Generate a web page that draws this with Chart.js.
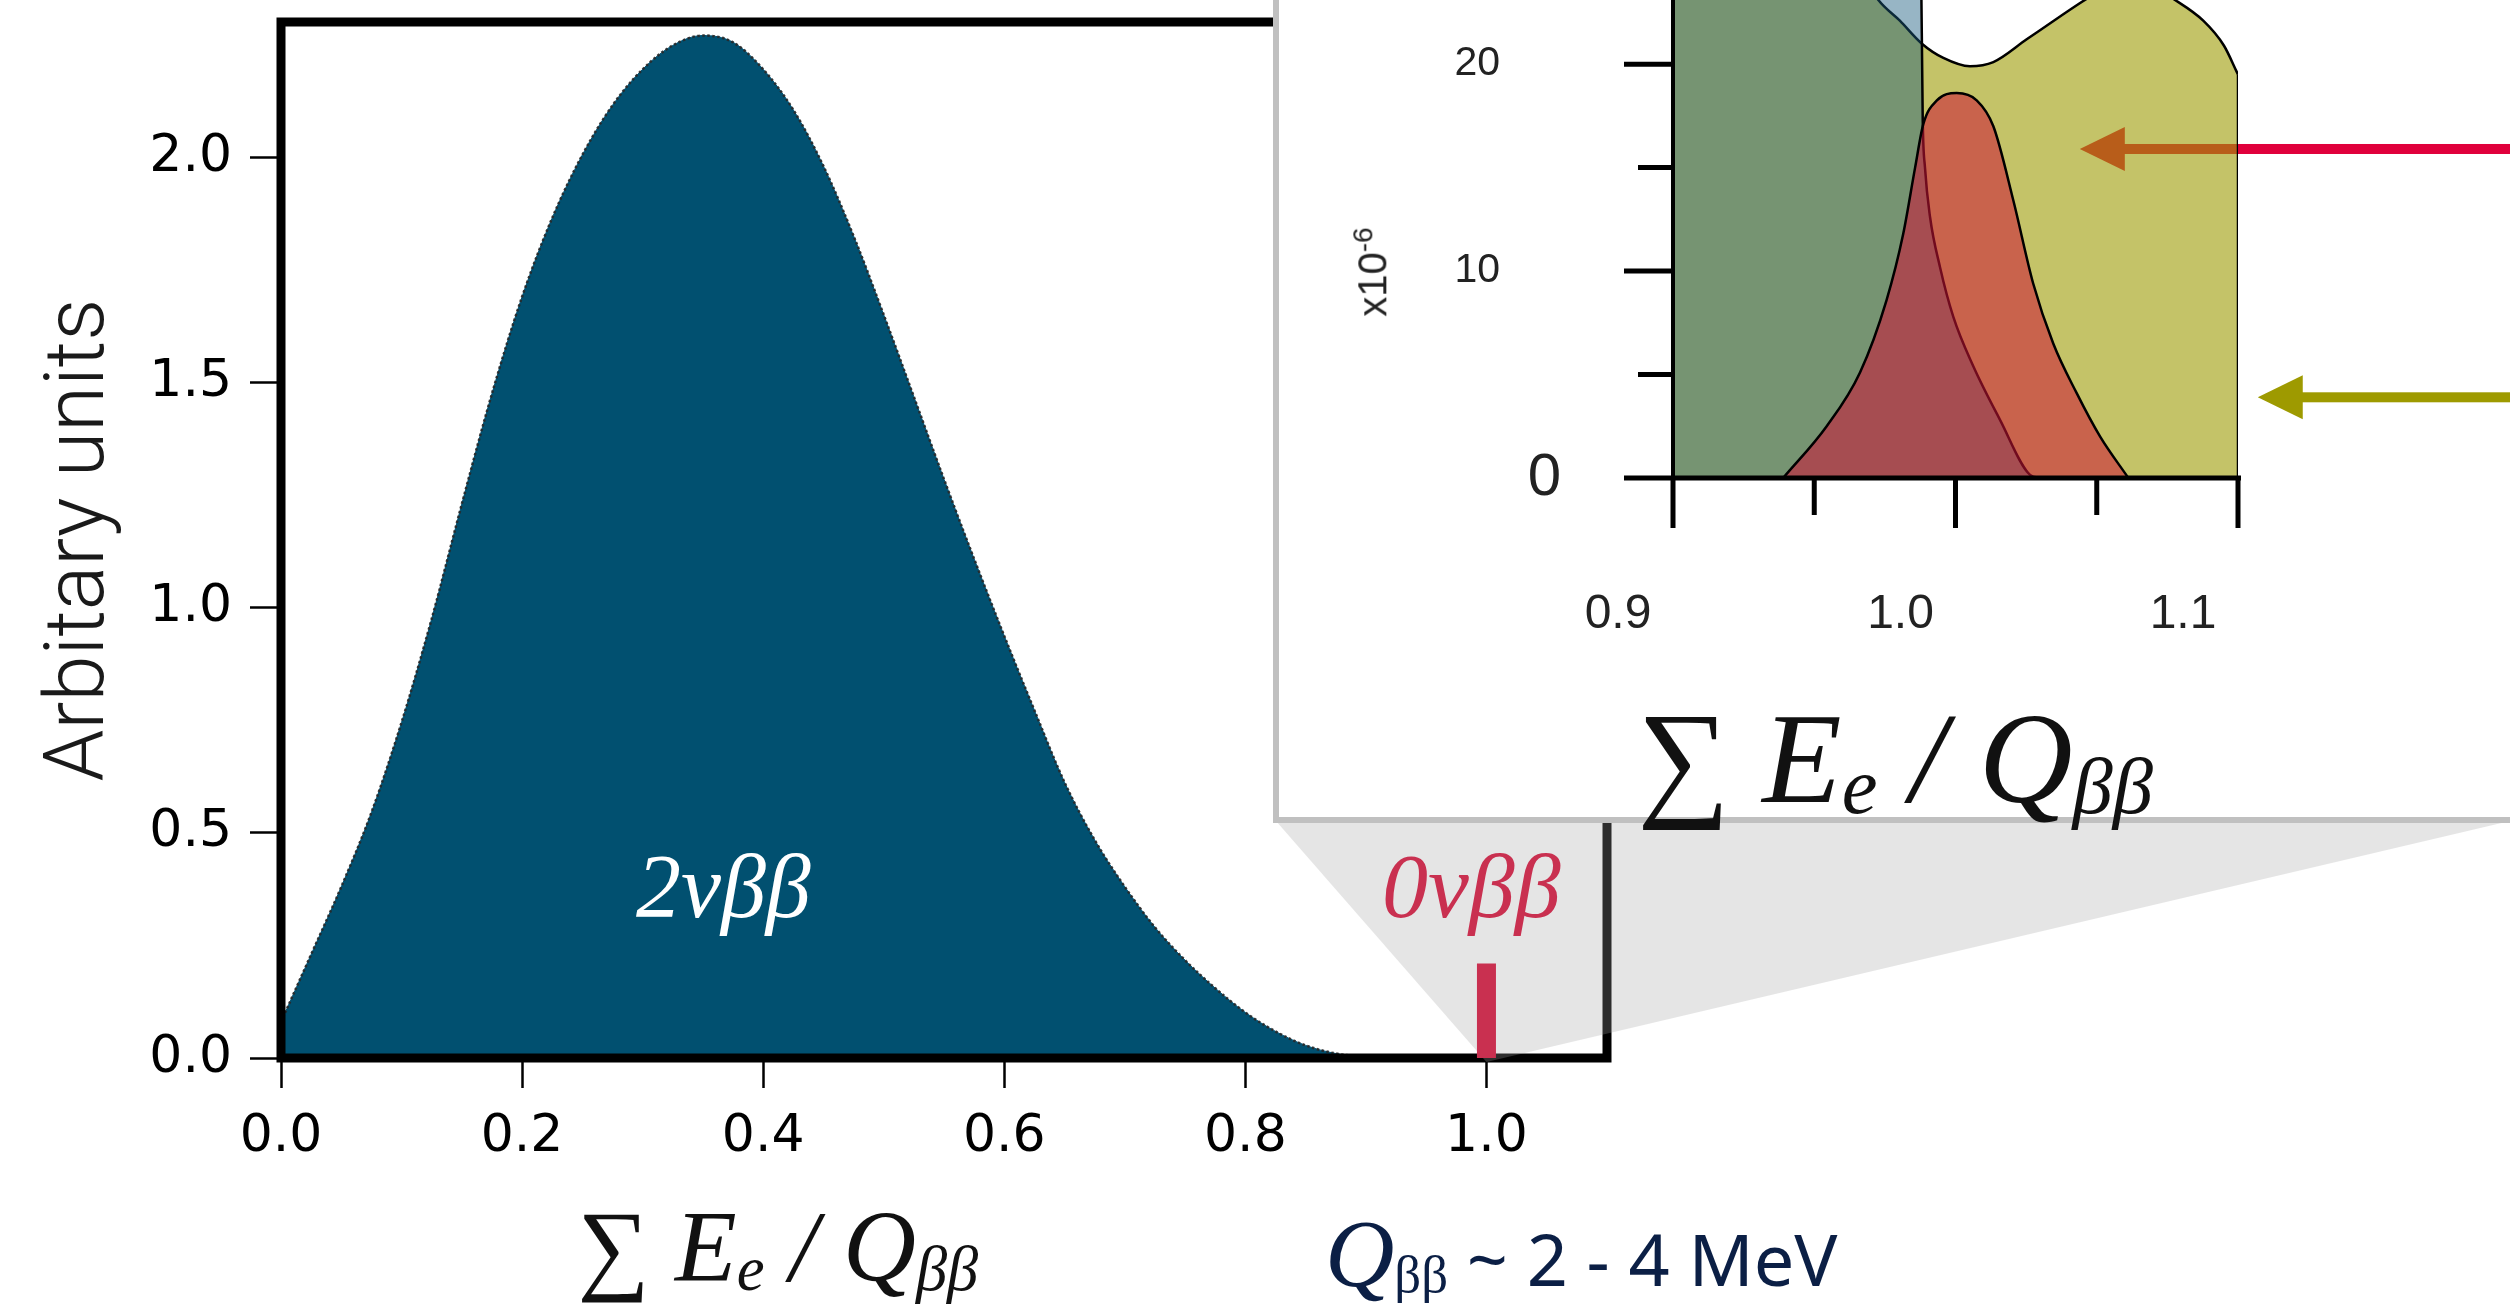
<!DOCTYPE html>
<html lang="en">
<head>
<meta charset="utf-8">
<title>Double beta decay summed-energy spectrum</title>
<script src="https://cdn.jsdelivr.net/npm/chart.js@4.4.1/dist/chart.umd.min.js"></script>
<style>
  html, body { margin: 0; padding: 0; background: #fff; }
  body { position: relative; width: 2510px; height: 1312px; overflow: hidden; }
  canvas { position: absolute; display: block; }
  #spectrum { left: 0; top: 0; z-index: 1; }
  #zoomBox { position: absolute; left: 1273px; top: -20px; width: 1260px; height: 843px;
             box-sizing: border-box; border: 6px solid #c0c0c0; background: #fff; z-index: 2; }
  #zoom { left: 1279px; top: 0; z-index: 3; }
  .txt { position: absolute; white-space: nowrap; line-height: 1; z-index: 4; }
  .serif { font-family: "Liberation Serif", "DejaVu Serif", serif; }
  .math { font-style: italic; }
  .math sub { font-size: 0.62em; vertical-align: baseline; position: relative; top: 0.14em; }
</style>
</head>
<body>
<canvas id="spectrum" width="2510" height="1312"></canvas>
<div id="zoomBox"></div>
<canvas id="zoom" width="1231" height="817"></canvas>

<div class="txt serif math" style="left:778px; top:1247px; font-size:101px; transform:translate(-50%,-50%); color:#111;">∑ E<sub>e</sub> / Q<sub>ββ</sub></div>
<div class="txt serif math" style="left:1895px; top:758px; font-size:130px; transform:translate(-50%,-50%); color:#111;">∑ E<sub>e</sub> / Q<sub>ββ</sub></div>
<div class="txt serif math" style="left:636px; top:842px; font-size:90px; color:#fff;">2νββ</div>
<div class="txt serif math" style="left:1382px; top:840px; font-size:92px; color:#c93050;">0νββ</div>
<div class="txt serif" style="left:1325px; top:1206px; font-size:96px; color:#0b1f45;"><span class="math">Q</span><span style="font-size:0.55em; position:relative; top:0.12em;">ββ</span><span style="font-family:'Noto Sans', sans-serif; font-size:72px;"> ~ 2 - 4 MeV</span></div>
<div class="txt" style="left:1371px; top:272px; font-family:'Liberation Sans', sans-serif; font-size:40px; color:#222; transform:translate(-50%,-50%) rotate(-90deg);">x10<sup style="font-size:0.7em;">-6</sup></div>

<script>
// summed electron energy, in units of Q
const sumEnergy = [0, 0.025, 0.05, 0.075, 0.1, 0.125, 0.15, 0.175, 0.2, 0.225,
                   0.25, 0.275, 0.3, 0.325, 0.35, 0.375, 0.4, 0.425, 0.45, 0.475,
                   0.5, 0.525, 0.55, 0.575, 0.6, 0.625, 0.65, 0.675, 0.7, 0.725,
                   0.75, 0.775, 0.8, 0.825, 0.85, 0.875, 0.9, 0.95, 1.0, 1.1];
// 2νββ continuum (arbitrary units)
const twoNuRate = [0.08, 0.23, 0.38, 0.545, 0.745, 0.975, 1.23, 1.475, 1.69, 1.865,
                   2.005, 2.115, 2.195, 2.248, 2.27, 2.255, 2.195, 2.105, 1.98, 1.825,
                   1.65, 1.468, 1.285, 1.108, 0.937, 0.772, 0.612, 0.484, 0.38, 0.29,
                   0.217, 0.155, 0.101, 0.059, 0.028, 0.01, 0.003, 0, 0, 0];
// 0νββ line sitting at the endpoint
const zeroNuEnergy = [1.0, 1.0];
const zeroNuRate = [0, 0.21];

const mainXTicks = [0, 0.2, 0.4, 0.6, 0.8, 1.0];
const mainYTicks = [0, 0.5, 1.0, 1.5, 2.0];

// endpoint region, rates in units of 1e-6
const bgEnergy = [0.9, 0.92, 0.94, 0.955, 0.965, 0.9727, 0.9803, 0.988, 0.9957, 1.0051,
                  1.0134, 1.0252, 1.037, 1.0458, 1.054, 1.062, 1.070, 1.0777, 1.0877, 1.095,
                  1.1];
const bgRate = [36, 33, 29.5, 27, 24.8, 23.1, 22.1, 21.0, 20.3, 19.9,
                20.1, 21.2, 22.3, 23.1, 23.75, 23.95, 23.7, 23.1, 22.1, 20.9,
                19.5];
const twoNuZoomEnergy = [0.9, 0.95, 0.98, 0.9877, 0.9884, 0.9892, 0.991, 0.9945, 0.9992, 1.0063,
                         1.0158, 1.0264, 1.03];
const twoNuZoomRate = [60, 50, 40, 26, 17.3, 15.0, 12.6, 10.2, 7.8, 5.4,
                       2.8, 0.15, 0];
const zeroNuZoomEnergy = [0.939, 0.9544, 0.9662, 0.9756, 0.9815, 0.9857, 0.9886, 0.9934, 1.0004, 1.0075,
                          1.0134, 1.0205, 1.0275, 1.0346, 1.0429, 1.0512, 1.0612];
const zeroNuZoomRate = [0, 2.5, 5.1, 8.6, 11.8, 15.0, 17.1, 18.25, 18.6, 18.25,
                        17.0, 13.4, 9.4, 6.5, 4.1, 2.0, 0];

const zoomXMajor = [0.9, 1.0, 1.1];
const zoomXMinor = [0.95, 1.05];
const zoomYMajor = [0, 10, 20];
const zoomYMinor = [5, 15];

// arrows: level they point at and where the head ends
const arrowRate = [15.9, 3.9];
const arrowTip = [1.044, 1.107];
const arrowColors = ['#e0003c', '#9e9a00'];

const pts = (xs, ys) => xs.map((x, i) => ({ x: x, y: ys[i] }));

// force axis box sizes so both plot areas land where we want them
function fixedSize(size) {
  return function (scale) {
    if (scale.isHorizontal()) scale.height = size; else scale.width = size;
    scale.paddingTop = scale.paddingBottom = scale.paddingLeft = scale.paddingRight = 0;
  };
}
function useTicks(values) {
  return function (scale) { scale.ticks = values.map(v => ({ value: v })); };
}

Chart.defaults.font.family = 'DejaVu Sans';

// frame around the main plot, then the grey wedge towards the zoom box
const frameAndWedge = {
  id: 'frameAndWedge',
  afterDatasetDraw(chart, args) {
    if (args.index !== 1) return;
    const { ctx, chartArea: a, scales: { x, y } } = chart;
    ctx.save();
    ctx.strokeStyle = '#000';
    ctx.lineWidth = 9;
    ctx.strokeRect(a.left, a.top, a.right - a.left, a.bottom - a.top);
    const box = document.getElementById('zoomBox').getBoundingClientRect();
    ctx.fillStyle = 'rgba(163,163,163,0.28)';
    ctx.beginPath();
    ctx.moveTo(box.left + 3, box.bottom - 2);
    ctx.lineTo(chart.width, box.bottom - 2);
    ctx.lineTo(x.getPixelForValue(zeroNuEnergy[0]), y.getPixelForValue(0) + 4);
    ctx.closePath();
    ctx.fill();
    ctx.restore();
  }
};

new Chart(document.getElementById('spectrum'), {
  type: 'line',
  data: {
    datasets: [
      {
        label: '0νββ',
        data: pts(zeroNuEnergy, zeroNuRate),
        borderColor: '#c93050',
        borderWidth: 19,
        borderCapStyle: 'butt',
        pointRadius: 0,
        fill: false,
        order: 0
      },
      {
        label: '2νββ edge',
        data: pts(sumEnergy, twoNuRate),
        borderColor: 'rgba(40,40,40,0.9)',
        borderWidth: 2.5,
        borderDash: [2.5, 2.5],
        pointRadius: 0,
        fill: false,
        cubicInterpolationMode: 'monotone',
        order: 1
      },
      {
        label: '2νββ',
        data: pts(sumEnergy, twoNuRate),
        borderColor: 'rgb(1,80,112)',
        backgroundColor: 'rgb(1,80,112)',
        borderWidth: 1,
        pointRadius: 0,
        fill: 'origin',
        cubicInterpolationMode: 'monotone',
        order: 2
      }
    ]
  },
  options: {
    responsive: false,
    animation: false,
    events: [],
    layout: { padding: { top: 22, right: 903, left: 0, bottom: 0 } },
    plugins: { legend: { display: false }, tooltip: { enabled: false } },
    scales: {
      x: {
        type: 'linear', min: 0, max: 1.1,
        afterFit: fixedSize(254),
        afterBuildTicks: useTicks(mainXTicks),
        border: { display: false },
        grid: { display: true, drawOnChartArea: false, drawTicks: true, tickLength: 30, tickWidth: 2.5, tickColor: '#000' },
        ticks: { padding: 18, color: '#000', font: { size: 52 }, maxRotation: 0, autoSkip: false,
                 callback: v => v.toFixed(1) }
      },
      y: {
        type: 'linear', min: 0, max: 2.3,
        afterFit: fixedSize(281),
        afterBuildTicks: useTicks(mainYTicks),
        border: { display: false },
        grid: { display: true, drawOnChartArea: false, drawTicks: true, tickLength: 31, tickWidth: 2.5, tickColor: '#000' },
        ticks: { padding: 18, color: '#000', font: { size: 52 }, callback: v => v.toFixed(1) },
        title: { display: true, text: 'Arbitary units', color: '#1a1a1a',
                 font: { family: 'Roboto', size: 83, weight: '300' }, padding: { top: 32, bottom: 0 } }
      }
    }
  },
  plugins: [frameAndWedge]
});

// arrows go under the fills, axes and ticks on top of them
const zoomAxes = {
  id: 'zoomAxes',
  beforeDatasetsDraw(chart) {
    const { ctx, scales: { x, y } } = chart;
    ctx.save();
    arrowRate.forEach((rate, i) => {
      const yp = y.getPixelForValue(rate);
      const tip = x.getPixelForValue(arrowTip[i]);
      ctx.fillStyle = arrowColors[i];
      ctx.fillRect(tip + 40, yp - 5, chart.width - tip - 40, 10);
      ctx.beginPath();
      ctx.moveTo(tip, yp);
      ctx.lineTo(tip + 45, yp - 22);
      ctx.lineTo(tip + 45, yp + 22);
      ctx.closePath();
      ctx.fill();
    });
    ctx.restore();
  },
  afterDatasetsDraw(chart) {
    const { ctx, chartArea: a, scales: { x, y } } = chart;
    const y0 = y.getPixelForValue(0);
    const line = (x1, y1, x2, y2) => { ctx.beginPath(); ctx.moveTo(x1, y1); ctx.lineTo(x2, y2); ctx.stroke(); };
    ctx.save();
    ctx.strokeStyle = '#000';
    ctx.lineWidth = 5;
    line(a.left - 2, y0, a.right + 3, y0);
    ctx.lineWidth = 4;
    line(a.left, a.top, a.left, y0);
    ctx.lineWidth = 5;
    zoomYMajor.forEach(v => line(a.left - 49, y.getPixelForValue(v), a.left, y.getPixelForValue(v)));
    zoomYMinor.forEach(v => line(a.left - 35, y.getPixelForValue(v), a.left, y.getPixelForValue(v)));
    zoomXMajor.forEach(v => line(x.getPixelForValue(v), y0, x.getPixelForValue(v), y0 + 50));
    zoomXMinor.forEach(v => line(x.getPixelForValue(v), y0, x.getPixelForValue(v), y0 + 37));
    ctx.restore();
  }
};

const insetLine = {
  pointRadius: 0,
  borderColor: '#000',
  borderWidth: 2.5,
  fill: 'origin',
  cubicInterpolationMode: 'monotone'
};

// closing edge of the background where it stops at the end of the range
const bgEnd = bgEnergy.length - 1;

new Chart(document.getElementById('zoom'), {
  type: 'line',
  data: {
    datasets: [
      Object.assign({ label: '0νββ', data: pts(zeroNuZoomEnergy, zeroNuZoomRate),
                      backgroundColor: 'rgba(205,20,55,0.55)', order: 0 }, insetLine),
      Object.assign({ label: '2νββ', data: pts(twoNuZoomEnergy, twoNuZoomRate),
                      backgroundColor: 'rgba(24,90,126,0.45)', order: 1 }, insetLine),
      Object.assign({ label: 'background', data: pts(bgEnergy, bgRate),
                      backgroundColor: 'rgba(157,155,3,0.6)', order: 3 }, insetLine),
      { label: 'background end',
        data: pts([bgEnergy[bgEnd], bgEnergy[bgEnd]], [0, bgRate[bgEnd]]),
        borderColor: '#000', borderWidth: 2.5, pointRadius: 0, fill: false, order: 2 }
    ]
  },
  options: {
    responsive: false,
    animation: false,
    events: [],
    layout: { padding: { top: 0, right: 272, left: 0, bottom: 0 } },
    plugins: { legend: { display: false }, tooltip: { enabled: false } },
    scales: {
      x: {
        type: 'linear', min: 0.9, max: 1.1,
        afterFit: fixedSize(339),
        afterBuildTicks: useTicks(zoomXMajor),
        border: { display: false },
        grid: { display: false, drawTicks: false },
        ticks: { padding: 108, labelOffset: -55, color: '#222', maxRotation: 0, autoSkip: false,
                 font: { family: 'Liberation Sans', size: 48 }, callback: v => v.toFixed(1) }
      },
      y: {
        type: 'linear', min: 0, max: 23.1, weight: 0,
        afterFit: fixedSize(168),
        afterBuildTicks: useTicks([zoomYMajor[0]]),
        border: { display: false },
        grid: { display: false, drawTicks: false },
        ticks: { padding: 112, color: '#222', font: { family: 'Liberation Sans', size: 60 },
                 callback: v => String(v) }
      },
      yOuter: {
        type: 'linear', position: 'left', min: 0, max: 23.1, weight: 1,
        afterFit: fixedSize(226),
        afterBuildTicks: useTicks(zoomYMajor.slice(1)),
        border: { display: false },
        grid: { display: false, drawTicks: false },
        ticks: { padding: 5, color: '#222', font: { family: 'Liberation Sans', size: 41 },
                 callback: v => String(v) }
      }
    }
  },
  plugins: [zoomAxes]
});
</script>
</body>
</html>
